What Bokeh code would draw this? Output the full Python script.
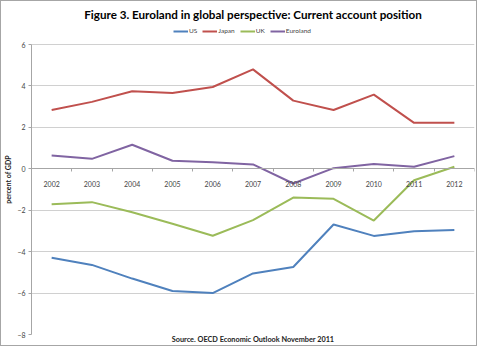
from bokeh.plotting import figure
from bokeh.models import (Title, Legend, LegendItem, FixedTicker, Range1d)
from bokeh.embed import file_html
from bokeh.resources import INLINE

years = [2002, 2003, 2004, 2005, 2006, 2007, 2008, 2009, 2010, 2011, 2012]
us = [-4.29, -4.64, -5.30, -5.90, -6.00, -5.05, -4.74, -2.69, -3.24, -3.02, -2.95]
japan = [2.84, 3.23, 3.74, 3.66, 3.95, 4.80, 3.29, 2.84, 3.58, 2.22, 2.22]
uk = [-1.71, -1.61, -2.10, -2.65, -3.23, -2.48, -1.39, -1.45, -2.50, -0.55, 0.10]
euroland = [0.64, 0.48, 1.16, 0.39, 0.32, 0.21, -0.71, 0.03, 0.23, 0.10, 0.61]
series_names = ["US", "Japan", "UK", "Euroland"]
series_colors = ["#4F81BD", "#C0504D", "#9BBB59", "#8064A2"]
y_ticks = [-8, -6, -4, -2, 0, 2, 4, 6]

FONT = "Lato"

# headroom above the top tick holds the legend (axis line is bounded to the tick span)
y_top = y_ticks[-1] + 0.966

p = figure(width=477, height=346, output_backend="svg", toolbar_location=None,
           x_range=Range1d(years[0] - 0.5, years[-1] + 0.5),
           y_range=Range1d(y_ticks[0], y_top),
           min_border_left=24, min_border_right=4, min_border_top=23, min_border_bottom=13)
p.styles = {"border": "1px solid #a6a6a6"}
p.background_fill_color = "white"
p.border_fill_color = "white"
p.outline_line_color = None

# title
p.title.text = "Figure 3. Euroland in global perspective: Current account position"
p.title.align = "center"
p.title.text_font = FONT
p.title.text_font_size = "11.65px"
p.title.text_font_style = "bold"
p.title.text_color = "black"
p.title.standoff = 8

# source
src = Title(text="Source. OECD Economic Outlook November 2011", align="center",
            text_font=FONT, text_font_size="7.3px", text_font_style="bold",
            text_color="#222222", standoff=-3)
p.add_layout(src, "below")

# grid
p.xgrid.grid_line_color = None
p.ygrid.grid_line_color = "#d0d0d0"
p.ygrid.ticker = FixedTicker(ticks=y_ticks)

# y axis
ya = p.yaxis[0]
ya.ticker = FixedTicker(ticks=y_ticks)
ya.bounds = (y_ticks[0], y_ticks[-1])
ya.axis_line_color = "#a6a6a6"
ya.major_tick_line_color = "#a6a6a6"
ya.major_tick_out = 3
ya.major_tick_in = 0
ya.minor_tick_line_color = None
ya.major_label_text_font = FONT
ya.major_label_text_font_size = "7px"
ya.major_label_text_color = "#444444"
ya.major_label_standoff = 3
ya.axis_label = "percent of GDP"
ya.axis_label_text_font = FONT
ya.axis_label_text_font_size = "7px"
ya.axis_label_text_font_style = "bold"
ya.axis_label_text_color = "#222222"
ya.axis_label_standoff = 2

# x axis at zero
xa = p.xaxis[0]
xa.fixed_location = 0
xa.ticker = FixedTicker(ticks=years, minor_ticks=[y - 0.5 for y in years] + [years[-1] + 0.5])
xa.axis_line_color = "#a6a6a6"
xa.major_tick_line_color = None
xa.minor_tick_line_color = "#a6a6a6"
xa.minor_tick_out = 3
xa.minor_tick_in = 0
xa.major_label_text_font = FONT
xa.major_label_text_font_size = "7px"
xa.major_label_text_color = "#444444"
xa.major_label_standoff = 6

series = [us, japan, uk, euroland]
items = []
for name, vals, col in zip(series_names, series, series_colors):
    r = p.line(years, vals, line_color=col, line_width=2)
    items.append(LegendItem(label=name, renderers=[r]))

legend = Legend(items=items, orientation="horizontal", location=(142, 300),
                label_text_font=FONT, label_text_font_size="6.5px", label_text_color="#444444",
                glyph_width=15, glyph_height=6, label_standoff=1, spacing=5,
                label_width=0, label_height=7, padding=0, margin=0, border_line_color=None,
                background_fill_alpha=0)
p.add_layout(legend, "center")

open("out.html", "w").write(file_html(p, INLINE))
